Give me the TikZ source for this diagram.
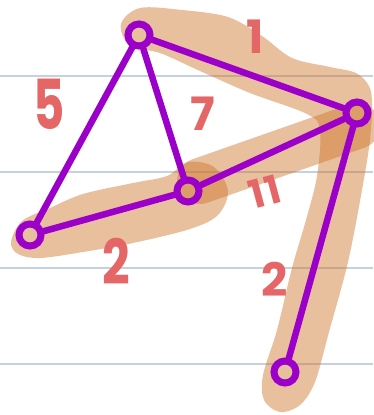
\documentclass[tikz,border=0pt]{standalone}
\usepackage{fontspec}
\setmainfont{Poppins}
\usetikzlibrary{positioning, backgrounds}
\definecolor{penpurple}{RGB}{155,0,200}
\definecolor{penred}{RGB}{228,102,102}
\definecolor{marker}{RGB}{205,115,40}
\definecolor{ruled}{RGB}{198,208,222}

\begin{document}
\begin{tikzpicture}[x=1pt, y=-1pt, thick]

        % Style definitions
        \tikzstyle{vertex} = [draw=penpurple, circle, line width=7pt, minimum size=22pt, inner sep=0pt]
        \tikzstyle{edge} = [draw=penpurple, line width=6.5pt, line cap=round]
        \tikzstyle{glow} = [opacity=0.45, line cap=round, line join=round]
        \tikzstyle{weight} = [text=penred, font=\fontsize{46}{46}\selectfont\bfseries, inner sep=0pt]
        \tikzstyle{ruleline} = [draw=ruled, line width=2pt]

        \useasboundingbox (0,0) rectangle (373,415);

        % Vertices
        \node[vertex] (top) at (139,35) {};
        \node[vertex] (right) at (357,113) {};
        \node[vertex] (mid) at (188,191) {};
        \node[vertex] (left) at (30,235) {};
        \node[vertex] (bottom) at (285,372) {};

        % Edges
        \draw[edge] (top) -- (left);
        \draw[edge] (top) -- (mid);
        \draw[edge] (top) -- (right);
        \draw[edge] (left) -- (mid);
        \draw[edge] (mid) -- (right);
        \draw[edge] (right) -- (bottom);

        % Weights
        \node[weight] (w1) at (255,37) {1};
        \node[weight, xscale=1.05, yscale=1.5] (w5) at (49,104) {5};
        \node[weight] (w7) at (203,114) {7};
        \node[weight, scale=0.85, rotate=15] (w11) at (265,192) {1\kern3pt 1};
        \node[weight, xscale=1.05, yscale=1.35] (w2a) at (116,261) {2};
        \node[weight] (w2b) at (275,279) {2};

        % Paper lines and marker strokes
        \begin{pgfonlayer}{background}
            \foreach \y in {76,172,268,364} {
                \draw[ruleline] (0,\y) -- (373,\y);
            }
            \fill[glow, marker] plot[smooth cycle, tension=0.55] coordinates {
                (121,24) (140,8) (182,10) (228,17) (262,36) (292,58) (330,67)
                (356,73) (369,86) (372,104) (370,140) (362,190) (348,262)
                (329,332) (315,382) (300,405) (280,412) (264,400) (263,375)
                (277,330) (292,268) (306,220) (317,176) (320,130) (307,114)
                (250,93) (200,71) (160,53) (130,46)};
            \fill[glow, marker] plot[smooth cycle, tension=0.55] coordinates {
                (11,242) (22,221) (50,208) (83,194) (133,183) (167,176)
                (188,162) (214,167) (228,191) (218,215) (190,229) (133,243)
                (83,252) (40,258) (18,254)};
            \draw[glow, marker, line width=46pt] ([shift={(12pt,10pt)}]mid.center) -- ([yshift=-13pt]right.center);
        \end{pgfonlayer}

\end{tikzpicture}
\end{document}
